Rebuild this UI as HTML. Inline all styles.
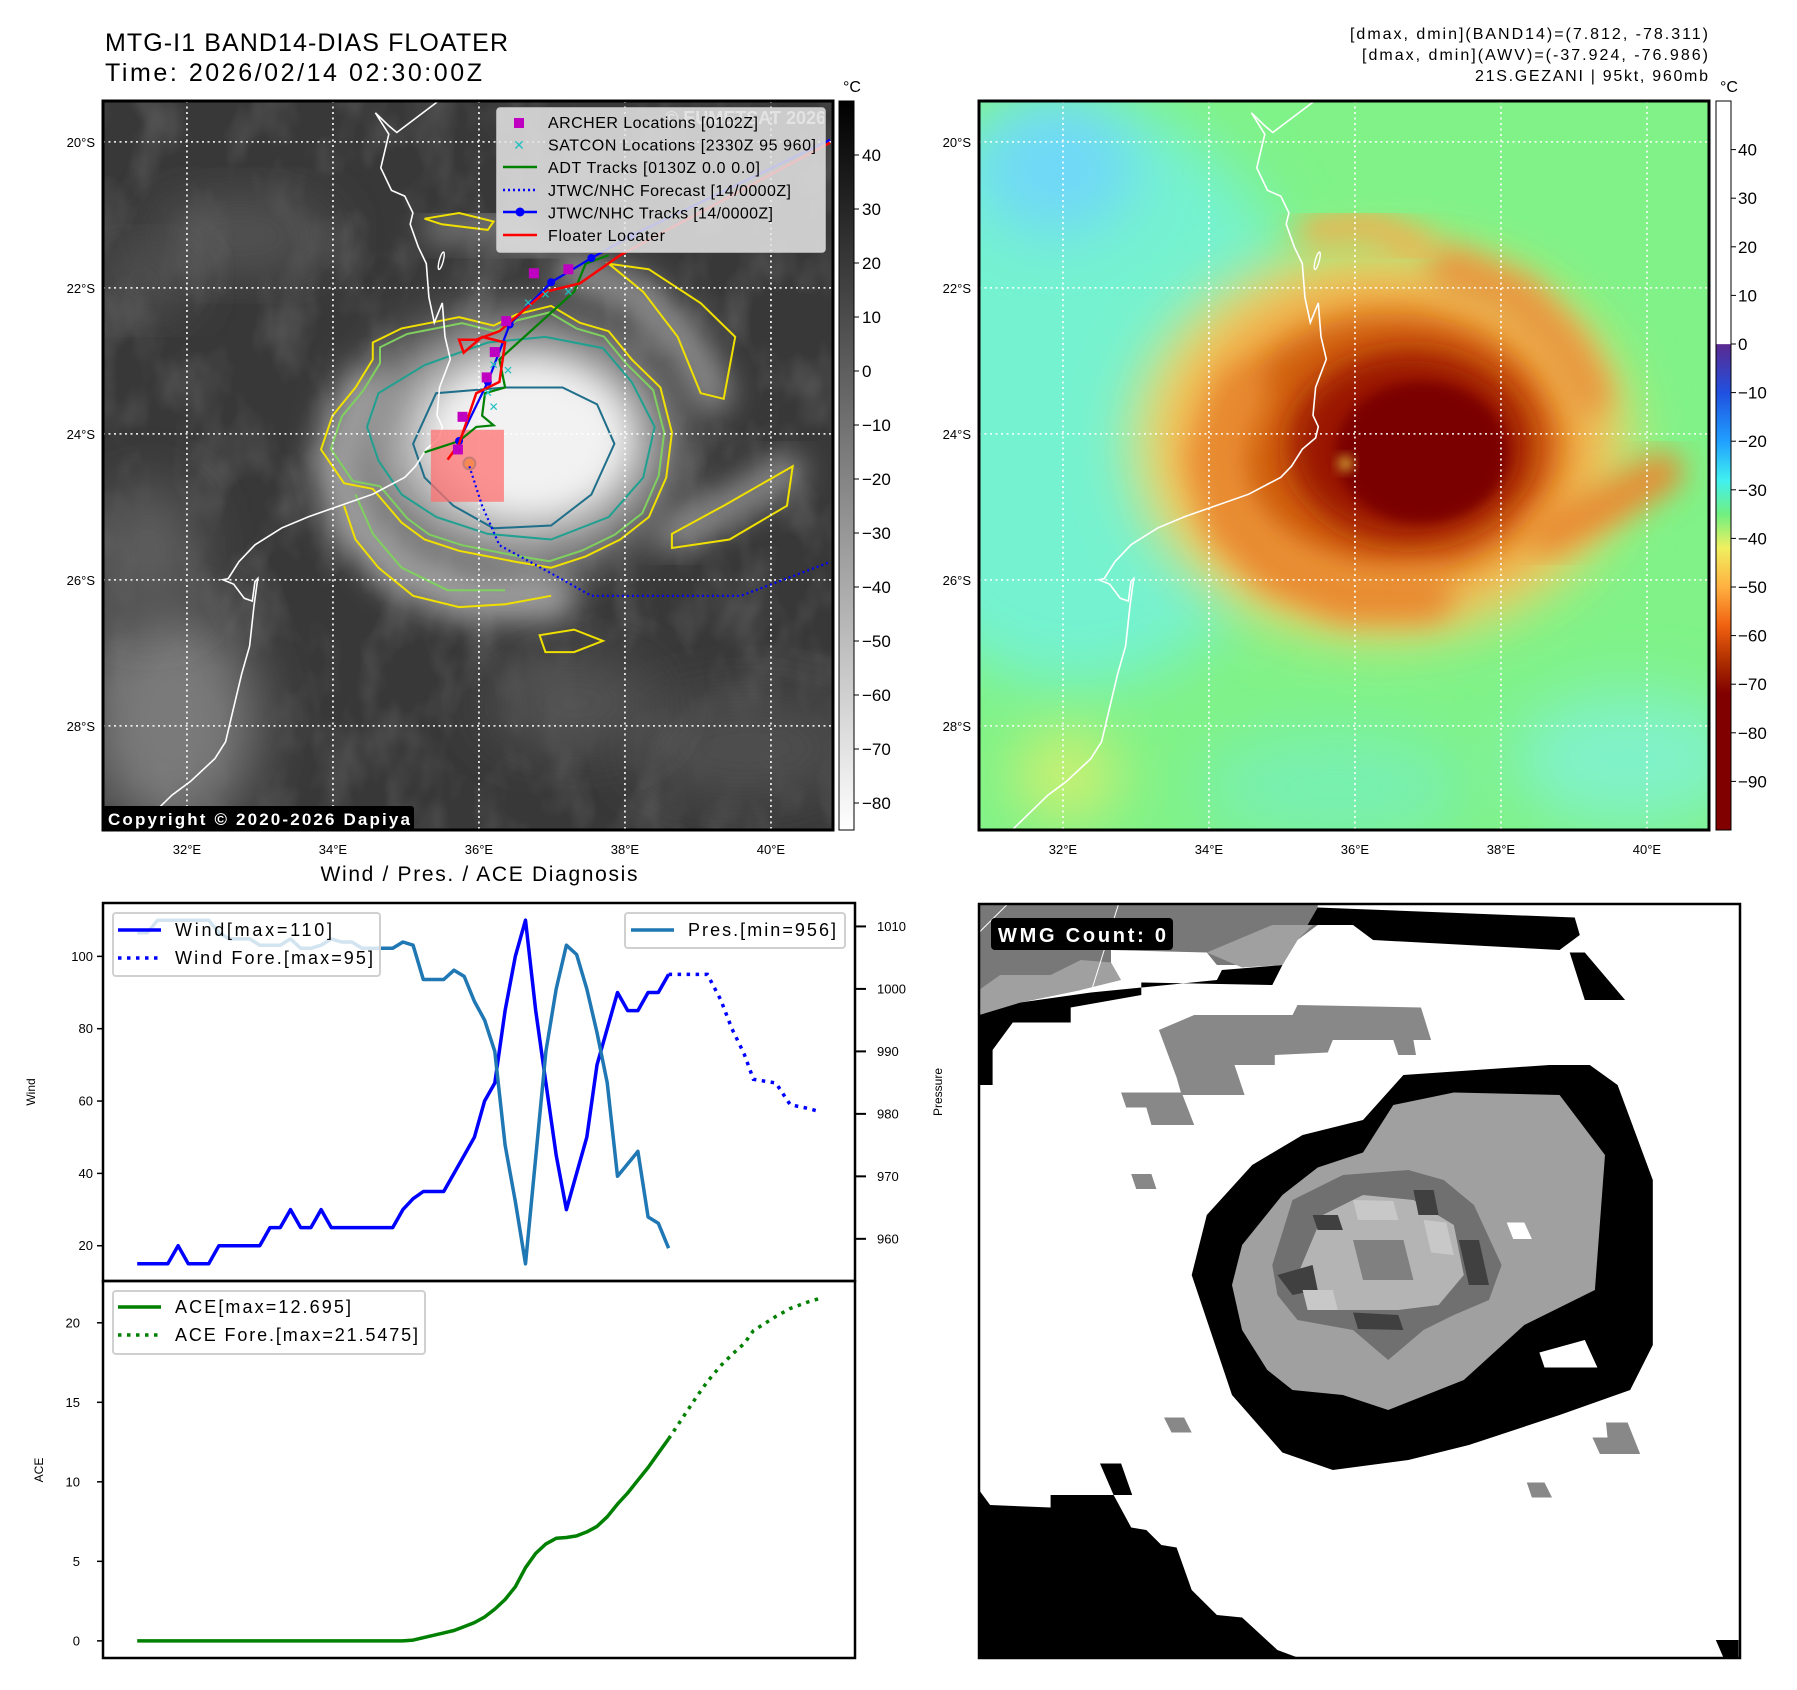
<!DOCTYPE html>
<html><head><meta charset="utf-8">
<style>
html,body{margin:0;padding:0;background:#fff;}
#fig{display:block;font-family:"Liberation Sans","DejaVu Sans",sans-serif;}
</style></head>
<body>
<svg id="fig" xmlns="http://www.w3.org/2000/svg" width="1797" height="1690" viewBox="0 0 1797 1690">
<defs>
<clipPath id="c1"><rect x="103" y="101" width="730" height="729"/></clipPath>
<clipPath id="c2"><rect x="979" y="101" width="730" height="729"/></clipPath>
<clipPath id="c3"><rect x="979" y="904" width="761" height="754"/></clipPath>
<filter id="b30" x="-50%" y="-50%" width="200%" height="200%"><feGaussianBlur stdDeviation="30"/></filter>
<filter id="b15" x="-50%" y="-50%" width="200%" height="200%"><feGaussianBlur stdDeviation="15"/></filter>
<filter id="b6" x="-50%" y="-50%" width="200%" height="200%"><feGaussianBlur stdDeviation="6"/></filter>
<filter id="tex" x="0" y="0" width="100%" height="100%"><feTurbulence type="fractalNoise" baseFrequency="0.022 0.014" numOctaves="3" seed="4"/><feColorMatrix type="matrix" values="0 0 0 0 1  0 0 0 0 1  0 0 0 0 1  0.9 0 0 0 -0.4"/></filter>
<linearGradient id="cb1" x1="0" y1="0" x2="0" y2="1"><stop offset="0" stop-color="#000"/><stop offset="1" stop-color="#fff"/></linearGradient>
<linearGradient id="cb2" x1="0" y1="0" x2="0" y2="1">
<stop offset="0" stop-color="#fff"/><stop offset="0.333" stop-color="#fff"/>
<stop offset="0.334" stop-color="#5a2a90"/><stop offset="0.4" stop-color="#2050e0"/>
<stop offset="0.467" stop-color="#20a0ff"/><stop offset="0.52" stop-color="#40f0f0"/>
<stop offset="0.567" stop-color="#70f080"/><stop offset="0.613" stop-color="#f0f060"/>
<stop offset="0.667" stop-color="#ffb040"/><stop offset="0.72" stop-color="#f06010"/>
<stop offset="0.767" stop-color="#b03000"/><stop offset="0.813" stop-color="#800000"/>
<stop offset="1" stop-color="#800000"/></linearGradient>
</defs>
<text x="105" y="51" font-size="25" textLength="403">MTG-I1 BAND14-DIAS FLOATER</text>
<text x="105" y="81" font-size="25" textLength="377">Time: 2026/02/14 02:30:00Z</text>
<text x="1708" y="39" font-size="16" text-anchor="end" textLength="358">[dmax, dmin](BAND14)=(7.812, -78.311)</text>
<text x="1708" y="60" font-size="16" text-anchor="end" textLength="346">[dmax, dmin](AWV)=(-37.924, -76.986)</text>
<text x="1708" y="81" font-size="16" text-anchor="end" textLength="233">21S.GEZANI | 95kt, 960mb</text>
<g id="map1" clip-path="url(#c1)"></g>
<rect x="103" y="101" width="730" height="729" fill="none" stroke="#000" stroke-width="3"/>
<g id="map2" clip-path="url(#c2)"></g>
<rect x="979" y="101" width="730" height="729" fill="none" stroke="#000" stroke-width="3"/>
<rect x="839" y="101" width="15" height="729" fill="url(#cb1)" stroke="#000" stroke-width="1"/>
<rect x="1716" y="101" width="15" height="729" fill="url(#cb2)" stroke="#000" stroke-width="1"/>
<text x="852" y="92" font-size="16" text-anchor="middle">°C</text>
<text x="1729" y="92" font-size="16" text-anchor="middle">°C</text>
<g id="pix" clip-path="url(#c3)"></g>
<rect x="979" y="904" width="761" height="754" fill="none" stroke="#000" stroke-width="2.5"/>
<rect x="991" y="918" width="182" height="32" rx="4" fill="#000"/>
<text x="998" y="942" font-size="20" font-weight="bold" fill="#fff" textLength="168">WMG Count: 0</text>
<g id="chart"></g>
</svg>
<script>
// ---- chart data ----
const windObs = [15,15,15,15,20,15,15,15,20,20,20,20,20,25,25,30,25,25,30,25,25,25,25,25,25,25,30,33,35,35,35,40,45,50,60,65,85,100,110,85,65,45,30,40,50,70,80,90,85,85,90,90,95];
const presObs = [1009,1009,1011,1011,1011,1011,1011,1011,1009,1008,1008,1008,1007,1007,1007,1008,1006.5,1006.5,1007,1008,1007.5,1007.5,1006.5,1006.5,1006.5,1006.5,1007.5,1007,1001.5,1001.5,1001.5,1003,1002,998,995,990,975,966,956,973,990,1000,1007,1005.5,1000,993,985,970,972,974,963.5,962.5,958.5];
const aceObs = [0,0,0,0,0,0,0,0,0,0,0,0,0,0,0,0,0,0,0,0,0,0,0,0,0,0,0,0.05,0.2,0.35,0.5,0.65,0.9,1.15,1.5,2.0,2.6,3.4,4.6,5.5,6.1,6.45,6.5,6.6,6.85,7.2,7.8,8.6,9.3,10.1,10.9,11.8,12.7];
const fcTime = [52,54.8,55.8,57.1,58.2,59.4,60.3,62.5,63.9,65.6,66.9];
const fcWind = [95,95,95,88,80,73,66,65,59,58,57];
const fcAce = [12.7,15.4,16.3,17.3,18.0,18.7,19.5,20.4,20.9,21.3,21.55];
const windTicks = [20,40,60,80,100];
const presTicks = [960,970,980,990,1000,1010];
const aceTicks = [0,5,10,15,20];
const cbIrTicks = [40,30,20,10,0,-10,-20,-30,-40,-50,-60,-70,-80];
const cbAwvTicks = [40,30,20,10,0,-10,-20,-30,-40,-50,-60,-70,-80,-90];
const latTicks = [20,22,24,26,28];
const lonTicks = [32,34,36,38,40];

const NS="http://www.w3.org/2000/svg";
function mk(tag, attrs, parent){const e=document.createElementNS(NS,tag);for(const k in attrs)e.setAttribute(k,attrs[k]);parent.appendChild(e);return e;}
const svg=document.getElementById('fig');
const chart=document.getElementById('chart');
const minus=v=>v<0?'\u2212'+Math.abs(v):''+v;

// ---- chart scales ----
const allT=[0,fcTime[fcTime.length-1]];
const tMin=allT[0]-(allT[1]-allT[0])*0.05, tMax=allT[1]+(allT[1]-allT[0])*0.05;
const X=t=>103+(t-tMin)/(tMax-tMin)*752;
const wAll=windObs.concat(fcWind); const wlo=Math.min(...wAll), whi=Math.max(...wAll);
const wMin=wlo-(whi-wlo)*0.05, wMax=whi+(whi-wlo)*0.05;
const pAll=presObs; const plo=Math.min(...pAll), phi=Math.max(...pAll);
const pMin=plo-(phi-plo)*0.05, pMax=phi+(phi-plo)*0.05;
const aAll=aceObs.concat(fcAce); const alo=Math.min(...aAll), ahi=Math.max(...aAll);
const aMin=alo-(ahi-alo)*0.05, aMax=ahi+(ahi-alo)*0.05;
const TOP=903, MID=1281, BOT=1658;
const WY=w=>TOP+(wMax-w)/(wMax-wMin)*(MID-TOP);
const PY=p=>TOP+(pMax-p)/(pMax-pMin)*(MID-TOP);
const AY=a=>MID+(aMax-a)/(aMax-aMin)*(BOT-MID);

let t=mk('text',{x:479,y:881,'font-size':21,'text-anchor':'middle',textLength:317},chart);
t.textContent='Wind / Pres. / ACE Diagnosis';



function lineD(ts,vs,f){return ts.map((tt,i)=>(i?'L':'M')+X(tt).toFixed(1)+','+f(vs[i]).toFixed(1)).join(' ');}
const idx=windObs.map((_,i)=>i);
let p;
p=mk('path',{d:lineD(idx,windObs,WY),fill:'none',stroke:'#0000ff','stroke-width':3.5,'stroke-linejoin':'round'},chart);


p=mk('path',{d:lineD(fcTime,fcWind,WY),fill:'none',stroke:'#0000ff','stroke-width':3.5,'stroke-dasharray':'3.5 5.5'},chart);


p=mk('path',{d:lineD(idx,presObs,PY),fill:'none',stroke:'#1f77b4','stroke-width':3.5,'stroke-linejoin':'round'},chart);


p=mk('path',{d:lineD(idx,aceObs,AY),fill:'none',stroke:'#008000','stroke-width':3.5,'stroke-linejoin':'round'},chart);


p=mk('path',{d:lineD(fcTime,fcAce,AY),fill:'none',stroke:'#008000','stroke-width':3.5,'stroke-dasharray':'3.5 5.5'},chart);



p=mk('rect',{x:103,y:TOP,width:752,height:MID-TOP,fill:'none',stroke:'#000','stroke-width':2.5},chart);


p=mk('rect',{x:103,y:MID,width:752,height:BOT-MID,fill:'none',stroke:'#000','stroke-width':2.5},chart);



windTicks.forEach(v=>{const y=WY(v);
 let l=mk('line',{x1:97,x2:103,y1:y,y2:y,stroke:'#000','stroke-width':1.5},chart);
 
 
 let tx=mk('text',{x:93,y:y+4.5,'font-size':13,'text-anchor':'end'},chart);tx.textContent=v;
 
 });
presTicks.forEach(v=>{const y=PY(v);
 let l=mk('line',{x1:855,x2:866,y1:y,y2:y,stroke:'#000','stroke-width':2},chart);
 
 
 let tx=mk('text',{x:877,y:y+4.5,'font-size':13},chart);tx.textContent=v;
 
 });
aceTicks.forEach(v=>{const y=AY(v);
 let l=mk('line',{x1:97,x2:103,y1:y,y2:y,stroke:'#000','stroke-width':1.5},chart);
 
 
 let tx=mk('text',{x:80,y:y+4.5,'font-size':13,'text-anchor':'end'},chart);tx.textContent=v;
 
 });
t=mk('text',{x:0,y:0,'font-size':12,'text-anchor':'middle',transform:'translate(35,1092) rotate(-90)'},chart);t.textContent='Wind';


t=mk('text',{x:0,y:0,'font-size':12,'text-anchor':'middle',transform:'translate(43,1470) rotate(-90)'},chart);t.textContent='ACE';


t=mk('text',{x:0,y:0,'font-size':12,'text-anchor':'middle',transform:'translate(942,1092) rotate(-90)'},chart);t.textContent='Pressure';



function legendBox(x,y,w,h,name){const r=mk('rect',{x:x,y:y,width:w,height:h,rx:3,fill:'#fff','fill-opacity':0.8,stroke:'#d0d0d0','stroke-width':2},chart);
 
 }
function legendRow(x,y,color,dash,label,len,name){
 const l=mk('line',{x1:x,x2:x+43,y1:y,y2:y,stroke:color,'stroke-width':3.5},chart);
 if(dash)l.setAttribute('stroke-dasharray','3.5 5.5');
 
 
 const tx=mk('text',{x:x+57,y:y+6,'font-size':18,textLength:len},chart);tx.textContent=label;
 
 }
legendBox(113,913,267,63,'wind-legend');
legendRow(118,930,'#0000ff',false,'Wind[max=110]',157,'legend-wind');
legendRow(118,958,'#0000ff',true,'Wind Fore.[max=95]',198,'legend-wind-forecast');
legendBox(625,913,220,35,'pressure-legend');
legendRow(631,930,'#1f77b4',false,'Pres.[min=956]',148,'legend-pressure');
legendBox(113,1291,312,63,'ace-legend');
legendRow(118,1307,'#008000',false,'ACE[max=12.695]',176,'legend-ace');
legendRow(118,1335,'#008000',true,'ACE Fore.[max=21.5475]',243,'legend-ace-forecast');

cbIrTicks.forEach(v=>{const y=101+(50-v)/135*729;
 let l=mk('line',{x1:854,x2:859,y1:y,y2:y,stroke:'#000'},svg);
 
 
 let tx=mk('text',{x:862,y:y+6,'font-size':17},svg);tx.textContent=minus(v);
 
 });
cbAwvTicks.forEach(v=>{const y=101+(50-v)/150*729;
 let l=mk('line',{x1:1731,x2:1736,y1:y,y2:y,stroke:'#000'},svg);
 
 
 let tx=mk('text',{x:1738,y:y+6,'font-size':17},svg);tx.textContent=minus(v);
 
 });

// ---- maps ----
const map1=document.getElementById('map1'), map2=document.getElementById('map2');
const F=(X0,Y0,x0)=>[x0+(X0-36)/1364*730, 101+(Y0-181)/1296*729];
const G=(X0,Y0)=>[103+(X0-181)*730/1269, 101+(Y0-181)*729/1295];
const toMap2=(X0,Y0)=>{const q=G(X0,Y0);return [q[0]+876,q[1]];};
function pts(arr,f){return arr.map(a=>f(a[0],a[1]).map(v=>v.toFixed(1)).join(',')).join(' ');}
function pathD(arr,f,close){return 'M'+arr.map(a=>f(a[0],a[1]).map(v=>v.toFixed(1)).join(',')).join(' L')+(close?' Z':'');}

const coast=[[660,183],[585,237],[570,225],[545,202],[570,240],[555,300],[575,340],[600,350],[615,380],[610,400],[625,440],[640,470],[645,530],[655,575],[670,540],[675,600],[685,640],[665,690],[660,740],[670,760],[665,780],[640,800],[620,830],[600,850],[540,880],[420,920],[370,940],[320,970],[290,1000],[270,1030],[260,1032],[280,1040],[300,1065],[315,1070],[320,1035],[325,1030],[318,1080],[310,1150],[295,1200],[275,1280],[265,1320],[245,1350],[200,1390],[165,1415],[100,1475],[80,1500]];

let e;
e=mk('rect',{x:103,y:101,width:730,height:729,fill:'#383838'},map1);


e=mk('rect',{x:103,y:101,width:730,height:729,filter:'url(#tex)',opacity:0.35},map1);


const clouds1=[[300,1280,150,200,'#7a7a7a'],[260,980,90,120,'#606060'],[420,420,160,60,'#585858'],[250,500,80,50,'#5a5a5a'],[1300,1330,200,90,'#505050'],[1000,1250,150,80,'#545454']];
clouds1.forEach(c=>{const q=G(c[0],c[1]);e=mk('ellipse',{cx:q[0],cy:q[1],rx:c[2]*0.575,ry:c[3]*0.563,fill:c[4],filter:'url(#b30)'},map1);
 
 });
function storm(parent,f,layers,arms){
 layers.forEach(c=>{const q=f(c[0],c[1]);const el=mk('ellipse',{cx:q[0],cy:q[1],rx:c[2]*0.575,ry:c[3]*0.563,fill:c[4],filter:c[5]},parent);
  
  });
 arms.forEach(a=>{const el=mk('path',{d:pathD(a[0],f,false),fill:'none',stroke:a[1],'stroke-width':a[2],'stroke-linecap':'round','stroke-linejoin':'round',filter:'url(#b15)'},parent);
  
  });
}
const armSW=[[640,700],[590,820],[620,930],[700,1010],[820,1060],[960,1060]];
const armNE=[[1000,480],[1120,530],[1200,620],[1240,700]];
const armE=[[1170,950],[1270,900],[1370,840]];
const armN=[[760,410],[860,400],[950,440]];
storm(map1,G,[[890,790,280,220,'#8a8a8a','url(#b30)'],[910,785,220,175,'#cfcfcf','url(#b30)'],[920,780,170,130,'#f2f2f2','url(#b15)']],
 [[armSW,'#9c9c9c',50],[armNE,'#8a8a8a',40],[armE,'#8a8a8a',35],[armN,'#7a7a7a',28]]);
const cY=[[560,800],[580,740],[620,690],[650,640],[650,610],[700,585],[750,575],[800,565],[860,580],[900,560],[960,545],[1010,575],[1060,590],[1100,640],[1150,690],[1170,770],[1160,850],[1130,920],[1080,960],[1020,990],[960,1010],[900,1000],[850,990],[800,980],[740,960],[700,930],[650,870],[600,860]];
const cG=cY.map(a=>[900+(a[0]-900)*0.95,780+(a[1]-780)*0.95]);
const cT=[[660,700],[740,650],[850,610],[950,600],[1050,620],[1100,680],[1140,760],[1120,850],[1060,920],[960,960],[850,950],[760,920],[700,880],[660,820],[640,760]];
const cD=[[720,790],[760,700],[880,690],[980,690],[1040,720],[1070,790],[1030,880],[960,935],[860,940],[790,900],[740,850]];
const bandSW=[[600,900],[620,960],[660,1010],[720,1060],[800,1080],[880,1075],[960,1060]];
const bandSW2=[[620,880],[650,950],[700,1010],[780,1050],[880,1050]];
const bandNE=[[1060,470],[1120,520],[1180,600],[1220,700],[1260,710],[1280,600],[1220,540],[1130,480]];
const bandE=[[1170,950],[1260,900],[1380,830],[1370,900],[1270,960],[1170,975]];
const bandN=[[740,390],[800,380],[860,395],[850,410],[770,400]];
const bandS=[[940,1130],[1000,1120],[1050,1140],[1000,1160],[950,1160]];
[[cY,'#f0e000',true],[cG,'#80d060',true],[cT,'#20a090',true],[cD,'#1f6e8a',true],[bandSW,'#f0e000',false],[bandSW2,'#80d060',false],[bandNE,'#f0e000',true],[bandE,'#f0e000',true],[bandN,'#f0e000',true],[bandS,'#f0e000',true]].forEach(c=>{
 const el=mk('path',{d:pathD(c[0],G,c[2]),fill:'none',stroke:c[1],'stroke-width':2},map1);
 
 });
let q=G(818,825);
e=mk('circle',{cx:q[0],cy:q[1],r:6,fill:'#e0d000',stroke:'#20a090','stroke-width':2},map1);



// map2
e=mk('rect',{x:979,y:101,width:730,height:729,fill:'#80f288'},map2);


const clouds2=[[220,700,440,520,'#74f2d0'],[180,300,150,120,'#70d8f8'],[1250,1350,220,120,'#80f2c8'],[700,1400,250,100,'#78f0b0'],[200,1380,100,80,'#d0f070']];
clouds2.forEach(c=>{const r=F(c[0],c[1],979);e=mk('ellipse',{cx:r[0],cy:r[1],rx:c[2]*0.535,ry:c[3]*0.5625,fill:c[4],filter:'url(#b30)'},map2);
 
 });
storm(map2,toMap2,[[880,790,430,340,'#f0e070','url(#b30)'],[890,790,370,295,'#f0a040','url(#b30)'],[900,790,290,230,'#d06010','url(#b15)'],[930,795,210,170,'#9a1800','url(#b15)'],[950,805,150,125,'#7a0000','url(#b6)']],
 [[armSW,'#e88a30',50],[armNE,'#e89840',45],[armE,'#e88a30',40],[armN,'#f0b050',30]]);
q=toMap2(818,825);
e=mk('circle',{cx:q[0],cy:q[1],r:7,fill:'#f0d040',filter:'url(#b6)'},map2);



[[map1,103],[map2,979]].forEach(m=>{
 const g=m[0], x0=m[1];
 latTicks.forEach(la=>{const y=101+(la-19.44)*73;
  const l=mk('line',{x1:x0,x2:x0+730,y1:y,y2:y,stroke:'#fff','stroke-width':1.6,'stroke-dasharray':'2 3.5'},g);
  
  
  const tx=mk('text',{x:x0-8,y:y+5,'font-size':13,'text-anchor':'end'},svg);tx.textContent=la+'°S';
  
  });
 lonTicks.forEach(lo=>{const x=x0+(lo-30.85)*73;
  const l=mk('line',{x1:x,x2:x,y1:101,y2:830,stroke:'#fff','stroke-width':1.6,'stroke-dasharray':'2 3.5'},g);
  
  
  const tx=mk('text',{x:x,y:854,'font-size':13,'text-anchor':'middle'},svg);tx.textContent=lo+'°E';
  
  });
 const c=mk('polyline',{points:pts(coast,(a,b)=>F(a,b,x0)),fill:'none',stroke:'#fff','stroke-width':1.6},g);
 
 
 const isl=F(668,465,x0);
 const i2=mk('ellipse',{cx:isl[0],cy:isl[1],rx:2,ry:9,fill:'none',stroke:'#fff','stroke-width':1.4,transform:'rotate(15 '+isl[0]+' '+isl[1]+')'},g);
 
 
});

const fcTrack=[[818,830],[840,900],[870,970],[960,1020],[1030,1060],[1290,1060],[1445,1000]];
const bestTrack=[[800,785],[850,680],[888,578],[960,503],[1030,460],[1100,420],[1445,250]];
const floater=[[780,818],[800,790],[830,700],[870,680],[880,610],[840,600],[808,628],[800,605],[830,605],[870,590],[950,520],[1010,505],[1080,455],[1445,255]];
const adt=[[740,805],[800,785],[830,760],[860,757],[840,740],[845,700],[880,690],[870,640],[1000,520],[1020,470],[1060,455]];
const archer=[[930,487],[990,480],[882,572],[862,627],[848,672],[806,742],[798,800]];
const satcon=[[920,540],[950,525],[860,650],[885,660],[860,725],[850,700],[990,520]];
q=G(751,765);let q2=G(878,893);
e=mk('rect',{x:q[0],y:q[1],width:q2[0]-q[0],height:q2[1]-q[1],fill:'#ff7070','fill-opacity':0.75},map1);


e=mk('polyline',{points:pts(fcTrack,G),fill:'none',stroke:'#0000ff','stroke-width':2.2,'stroke-dasharray':'2 3'},map1);


e=mk('polyline',{points:pts(adt,G),fill:'none',stroke:'#008000','stroke-width':2.2},map1);


e=mk('polyline',{points:pts(bestTrack,G),fill:'none',stroke:'#0000ff','stroke-width':2.2},map1);


bestTrack.slice(0,6).forEach(b=>{const r=G(b[0],b[1]);const c=mk('circle',{cx:r[0],cy:r[1],r:4,fill:'#0000ff'},map1);
 
 });
e=mk('polyline',{points:pts(floater,G),fill:'none',stroke:'#ff0000','stroke-width':2.5},map1);


satcon.forEach(b=>{const r=G(b[0],b[1]);const s=mk('text',{x:r[0],y:r[1]+4,'font-size':12,'font-weight':'bold',fill:'#20c0c0','text-anchor':'middle'},map1);s.textContent='✕';
 
 });
archer.forEach(b=>{const r=G(b[0],b[1]);const s=mk('rect',{x:r[0]-5,y:r[1]-5,width:10,height:10,fill:'#c000c0'},map1);
 
 });
e=mk('text',{x:826,y:124,'font-size':18,'font-weight':'bold',fill:'#fff','fill-opacity':0.75,'text-anchor':'end'},map1);e.textContent='© EUMETSAT 2026';


e=mk('rect',{x:497,y:108,width:328,height:144,rx:3,fill:'#e6e6e6','fill-opacity':0.85,stroke:'#cfcfcf','stroke-width':1.5},map1);


const mlRows=[['ARCHER Locations [0102Z]',210],['SATCON Locations [2330Z 95 960]',268],['ADT Tracks [0130Z 0.0 0.0]',212],['JTWC/NHC Forecast [14/0000Z]',243],['JTWC/NHC Tracks [14/0000Z]',225],['Floater Locater',117]];
mlRows.forEach((r,i)=>{const y=128+i*22.6;
 const tx=mk('text',{x:548,y:y,'font-size':16,textLength:r[1]},map1);tx.textContent=r[0];
 
 });
e=mk('rect',{x:514,y:118,width:10,height:10,fill:'#c000c0'},map1);


e=mk('text',{x:519,y:150,'font-size':14,'font-weight':'bold',fill:'#20c0c0','text-anchor':'middle'},map1);e.textContent='✕';


e=mk('line',{x1:503,x2:537,y1:167,y2:167,stroke:'#008000','stroke-width':2.5},map1);


e=mk('line',{x1:503,x2:537,y1:190,y2:190,stroke:'#0000ff','stroke-width':2.5,'stroke-dasharray':'2 3'},map1);


e=mk('line',{x1:503,x2:537,y1:212,y2:212,stroke:'#0000ff','stroke-width':2.5},map1);


e=mk('circle',{cx:520,cy:212,r:4.5,fill:'#0000ff'},map1);


e=mk('line',{x1:503,x2:537,y1:235,y2:235,stroke:'#ff0000','stroke-width':2.5},map1);


e=mk('rect',{x:103,y:806,width:311,height:25,rx:3,fill:'#000'},svg);


e=mk('text',{x:108,y:825,'font-size':17,'font-weight':'bold',fill:'#fff',textLength:302},svg);e.textContent='Copyright © 2020-2026 Dapiya';



// ---- WMG pixel panel ----
const pix=document.getElementById('pix');
const H=(X0,Y0)=>[979+(X0-18)*0.504, 904+(Y0-18)*0.5];
e=mk('rect',{x:979,y:904,width:761,height:754,fill:'#fff'},pix);


const shapes=[
 ['#000',[[18,240],[100,215],[240,195],[490,170],[500,150],[620,140],[600,180],[340,175],[340,200],[200,225],[200,255],[85,255],[45,310],[45,380],[18,380]]],
 ['#787878',[[18,18],[690,18],[690,60],[650,90],[620,140],[490,140],[470,115],[280,110],[280,160],[220,170],[220,190],[100,215],[18,240]]],
 ['#a0a0a0',[[18,190],[60,160],[160,160],[220,130],[280,135],[300,170],[220,190],[100,215],[18,240]]],
 ['#a0a0a0',[[470,115],[600,60],[680,60],[650,90],[620,140],[540,145]]],
 ['#000',[[690,25],[1200,45],[1210,80],[1170,110],[800,90],[760,60],[670,60]]],
 ['#000',[[1190,115],[1220,115],[1300,210],[1220,210]]],
 ['#888',[[375,270],[445,240],[640,240],[650,220],[895,225],[915,290],[880,290],[885,320],[850,320],[840,290],[720,290],[710,315],[605,320],[605,340],[525,340],[545,400],[420,400],[410,365]]],
 ['#888',[[300,395],[420,395],[445,460],[360,460],[350,425],[310,425]]],
 ['#000',[[440,760],[470,640],[560,540],[660,480],[780,450],[860,360],[1150,340],[1230,340],[1285,380],[1355,570],[1355,900],[1310,990],[1170,1040],[990,1100],[870,1130],[720,1150],[620,1115],[520,1000],[470,850]]],
 ['#a0a0a0',[[520,780],[540,700],[620,600],[690,545],[780,515],[840,420],[960,395],[1170,400],[1260,520],[1240,790],[1100,860],[980,970],[830,1030],[740,1000],[640,990],[590,950],[540,870]]],
 ['#707070',[[600,740],[640,610],[740,560],[870,550],[940,570],[1000,620],[1055,740],[1030,810],[960,840],[900,870],[830,930],[760,870],[650,850],[610,800]]],
 ['#b4b4b4',[[650,760],[700,640],[780,600],[880,610],[960,660],[980,760],[930,820],[850,830],[700,830]]],
 ['#404040',[[680,640],[730,640],[740,670],[690,670]]],
 ['#404040',[[880,590],[920,590],[930,640],[890,640]]],
 ['#404040',[[970,690],[1010,690],[1030,780],[990,780]]],
 ['#404040',[[760,835],[850,840],[860,870],[770,868]]],
 ['#404040',[[610,760],[680,740],[690,790],[640,800]]],
 ['#c8c8c8',[[760,610],[840,612],[850,650],[770,650]]],
 ['#c8c8c8',[[900,650],[945,655],[960,720],[915,715]]],
 ['#c8c8c8',[[660,790],[720,790],[730,830],[670,830]]],
 ['#808080',[[760,690],[860,690],[880,770],[780,770]]],
 ['#000',[[18,1190],[40,1220],[160,1225],[160,1200],[285,1200],[320,1265],[350,1270],[380,1300],[410,1305],[440,1390],[490,1440],[540,1445],[610,1510],[650,1525],[18,1525]]],
 ['#000',[[258,1137],[300,1137],[322,1200],[285,1200]]],
 ['#000',[[1480,1490],[1525,1490],[1525,1525],[1495,1525]]],
 ['#888',[[320,558],[360,558],[370,588],[330,588]]],
 ['#888',[[385,1045],[425,1045],[440,1075],[400,1075]]],
 ['#888',[[1235,1085],[1265,1085],[1262,1055],[1305,1055],[1330,1118],[1250,1118]]],
 ['#888',[[1105,1175],[1140,1175],[1155,1205],[1115,1205]]],
 ['#fff',[[1130,915],[1220,890],[1245,945],[1140,945]]],
 ['#fff',[[1065,655],[1100,655],[1115,688],[1078,688]]]
];
shapes.forEach(s=>{const el=mk('polygon',{points:pts(s[1],H),fill:s[0]},pix);
 
 });
e=mk('polyline',{points:pts([[295,18],[240,195]],H),fill:'none',stroke:'#fff','stroke-width':1},pix);


e=mk('polyline',{points:pts([[75,18],[18,75]],H),fill:'none',stroke:'#fff','stroke-width':1},pix);


</script>
</body></html>
